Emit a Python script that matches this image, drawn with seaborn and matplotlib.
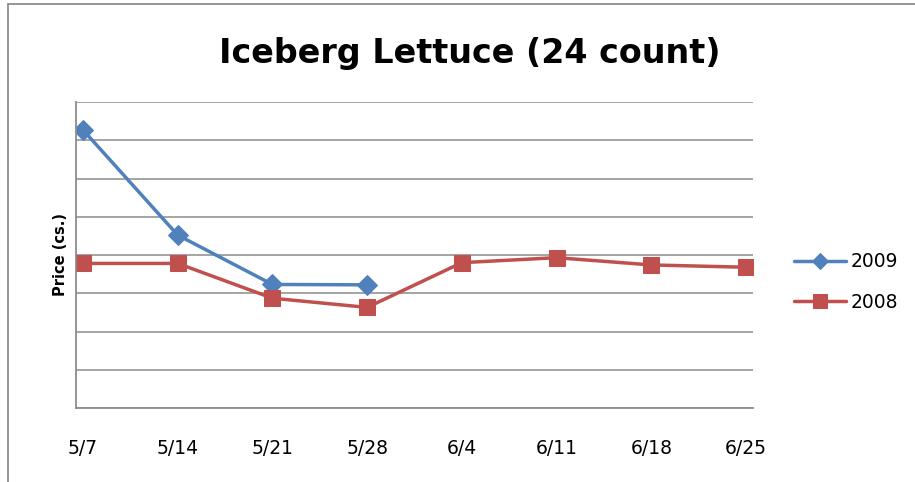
import numpy as np
import pandas as pd
import matplotlib
matplotlib.use('Agg')
import matplotlib.pyplot as plt
from matplotlib.patches import Rectangle
import seaborn as sns

# data (grid units, no y scale shown)
weeks = ['5/7', '5/14', '5/21', '5/28', '6/4', '6/11', '6/18', '6/25']
price_2009 = [7.27, 4.52, 3.23, 3.22, np.nan, np.nan, np.nan, np.nan]
price_2008 = [3.78, 3.78, 2.87, 2.63, 3.80, 3.93, 3.74, 3.68]

df = pd.DataFrame({'week': weeks, '2009': price_2009, '2008': price_2008})

sns.set_style('white')
plt.rcParams['font.family'] = ['DejaVu Sans']
plt.rcParams['text.color'] = 'black'
plt.rcParams['xtick.color'] = 'black'
plt.rcParams['axes.labelcolor'] = 'black'

fig = plt.figure(figsize=(9.15, 4.82), dpi=100)
ax = fig.add_axes([76 / 915, 74 / 482, 677 / 915, 306 / 482])

blue = '#4F81BD'
red = '#C0504D'

d09 = df.dropna(subset=['2009'])
sns.lineplot(data=d09, x='week', y='2009', ax=ax, color=blue, linewidth=2.5,
             marker='D', markersize=10, markeredgecolor=blue, label='2009', sort=False)
sns.lineplot(data=df, x='week', y='2008', ax=ax, color=red, linewidth=2.5,
             marker='s', markersize=12, markeredgecolor=red, label='2008', sort=False)

ax.set_xlim(-0.074, 7.074)
ax.set_ylim(0, 8)
ax.set_xticks(range(len(weeks)))
ax.set_xticklabels(weeks, fontsize=13.5)
ax.set_yticks(range(0, 9))
ax.set_yticklabels([])
ax.tick_params(axis='x', length=0, pad=22)
ax.tick_params(axis='y', length=0)
ax.grid(axis='y', color='#8c8c8c', linewidth=1.1)
ax.grid(axis='x', visible=False)
for s in ['top', 'right']:
    ax.spines[s].set_visible(False)
for s in ['left', 'bottom']:
    ax.spines[s].set_color('#8c8c8c')
    ax.spines[s].set_linewidth(1.3)
ax.set_xlabel('')
ax.set_ylabel('Price (cs.)', fontsize=10.5, fontweight='bold', labelpad=2)

fig.text(470 / 915, 1 - 53 / 482, 'Iceberg Lettuce (24 count)', ha='center', va='center',
         fontsize=24, fontweight='bold')

ax.legend(loc='center left', bbox_to_anchor=(777 / 915, 1 - 282 / 482),
          bbox_transform=fig.transFigure, frameon=False, fontsize=13.5,
          handlelength=2.8, labelspacing=1.15, handletextpad=0.25, markerscale=0.8)

fig.add_artist(Rectangle((8 / 915, -0.1), 1.2, 1 - 4 / 482 + 0.1, transform=fig.transFigure,
                         fill=False, edgecolor='#8c8c8c', linewidth=1.3))

fig.savefig('out.png', dpi=100)
